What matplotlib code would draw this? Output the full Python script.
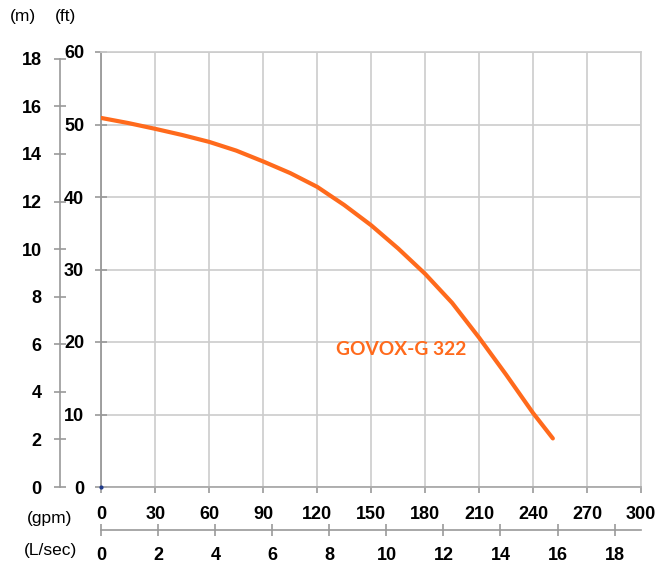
import matplotlib
matplotlib.use("Agg")
import matplotlib.pyplot as plt

plt.rcParams['font.family'] = ['Liberation Sans', 'DejaVu Sans']

# Data (flow in gpm, head in ft)
flow_gpm = [0, 15, 30, 45, 60, 75, 90, 105, 120, 135, 150, 165, 180, 195, 210, 225, 240, 251]
head_ft = [50.9, 50.2, 49.4, 48.55, 47.6, 46.4, 44.9, 43.3, 41.4, 38.9, 36.1, 32.9, 29.4, 25.4, 20.6, 15.5, 10.2, 6.7]
series_label = "GOVOX-G 322"

gpm_ticks = list(range(0, 301, 30))
ft_ticks = list(range(0, 61, 10))
m_ticks = list(range(0, 19, 2))
lps_ticks = list(range(0, 19, 2))

FT_PER_M = 3.281
GPM_PER_LPS = 15.85

W, H = 664, 570
fig = plt.figure(figsize=(W / 100, H / 100), dpi=100)
x0, x1, y0, y1 = 101.3, 641, 487, 52
ax = fig.add_axes([x0 / W, (H - y0) / H, (x1 - x0) / W, (y0 - y1) / H])
ax.set_xlim(0, 300)
ax.set_ylim(0, 60)

grid_c = '#cccccc'
axis_c = '#999999'
orange = '#ff6a1c'
LS = 13

ax.set_xticks(gpm_ticks)
ax.set_yticks(ft_ticks)
ax.grid(True, color=grid_c, linewidth=1.2)
ax.set_axisbelow(True)
for s in ['top', 'right']:
    ax.spines[s].set_color(grid_c)
    ax.spines[s].set_linewidth(1.2)
ax.spines['left'].set_color(axis_c)
ax.spines['left'].set_linewidth(1.3)
ax.spines['bottom'].set_color('#aaaaaa')
ax.spines['bottom'].set_linewidth(1.3)

ax.tick_params(axis='y', direction='inout', length=8.6, width=1.2, color=axis_c, pad=8.0,
               labelsize=LS)
ax.tick_params(axis='x', direction='out', length=4.3, width=1.2, color=axis_c, pad=9.5,
               labelsize=LS)
for lbl in ax.get_xticklabels() + ax.get_yticklabels():
    lbl.set_fontweight('bold')

# curve
ax.plot(flow_gpm, head_ft, color=orange, linewidth=3.0, solid_capstyle='round',
        solid_joinstyle='round', zorder=3)
ax.plot([0], [0], marker='o', markersize=2, color='#1f3a8a', clip_on=False, zorder=4)
ax.text(166.6, 19.0, series_label, color=orange, fontsize=13.8, fontweight='bold',
        family=['Lato', 'DejaVu Sans'], ha='center', va='center')

# meters axis
secy = ax.secondary_yaxis((60 - x0) / (x1 - x0),
                          functions=(lambda f: f / FT_PER_M, lambda m: m * FT_PER_M))
secy.set_yticks(m_ticks)
secy.spines['left'].set_bounds(0, 18)
secy.spines['left'].set_color(axis_c)
secy.spines['left'].set_linewidth(1.2)
secy.tick_params(axis='y', direction='inout', length=8.6, width=1.2, color=axis_c, pad=9.0,
                 labelsize=LS)
for lbl in secy.get_yticklabels():
    lbl.set_fontweight('bold')

# L/sec axis
secx = ax.secondary_xaxis(-(530 - y0) / (y0 - y1),
                          functions=(lambda g: g / GPM_PER_LPS, lambda l: l * GPM_PER_LPS))
secx.set_xticks(lps_ticks)
secx.spines['bottom'].set_bounds(0, 300 / GPM_PER_LPS)
secx.spines['bottom'].set_color(axis_c)
secx.spines['bottom'].set_linewidth(1.2)
secx.tick_params(axis='x', direction='inout', length=8.6, width=1.2, color=axis_c, pad=8.0,
                 labelsize=LS)
for lbl in secx.get_xticklabels():
    lbl.set_fontweight('bold')

# unit labels
def ptext(x, y, s):
    fig.text(x / W, 1 - y / H, s, ha='center', va='center', fontsize=12.5)

ptext(23, 16, '(m)')
ptext(65, 16, '(ft)')
ptext(50, 518, '(gpm)')
ptext(50, 550, '(L/sec)')

fig.savefig('out.png', dpi=100)
